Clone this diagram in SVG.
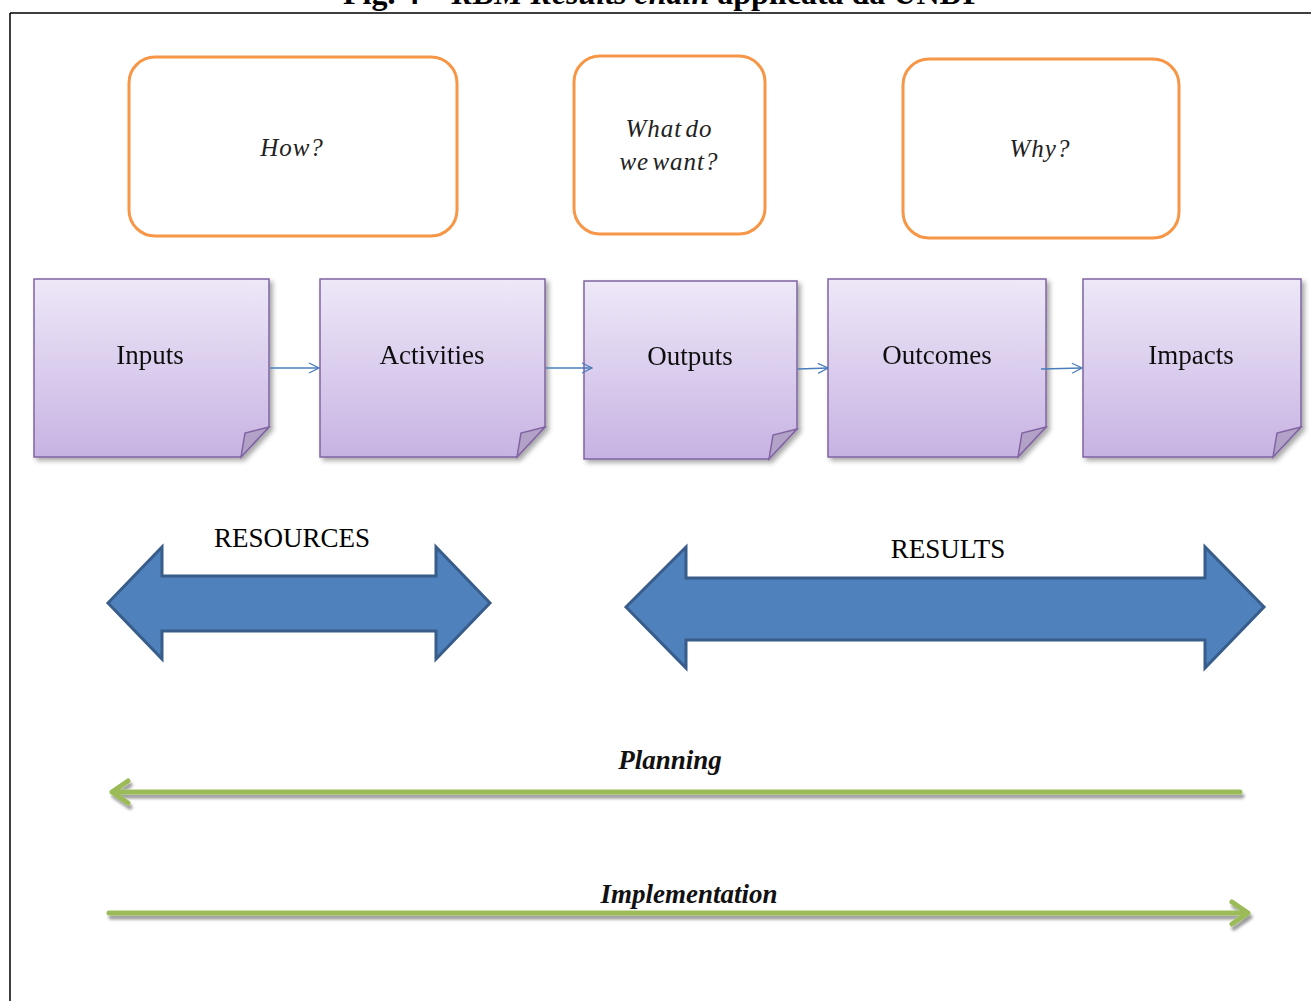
<svg xmlns="http://www.w3.org/2000/svg" width="1311" height="1001" viewBox="0 0 1311 1001">
<defs>
<linearGradient id="pg" x1="0" y1="0" x2="0" y2="1">
<stop offset="0" stop-color="#EEE8F8"/>
<stop offset="1" stop-color="#C7B3E3"/>
</linearGradient>
<filter id="sh" x="-10%" y="-10%" width="130%" height="130%">
<feGaussianBlur in="SourceAlpha" stdDeviation="2.5"/>
<feOffset dx="3" dy="3" result="b"/>
<feComponentTransfer><feFuncA type="linear" slope="0.35"/></feComponentTransfer>
<feMerge><feMergeNode/><feMergeNode in="SourceGraphic"/></feMerge>
</filter>
<filter id="gsh" x="-5%" y="-100%" width="110%" height="400%">
<feGaussianBlur in="SourceAlpha" stdDeviation="1.5"/>
<feOffset dx="2" dy="4" result="b"/>
<feComponentTransfer><feFuncA type="linear" slope="0.4"/></feComponentTransfer>
<feMerge><feMergeNode/><feMergeNode in="SourceGraphic"/></feMerge>
</filter>
<marker id="ar" markerWidth="12" markerHeight="12" refX="11" refY="6" orient="auto" markerUnits="userSpaceOnUse">
<path d="M1,1 L11,6 L1,11" fill="none" stroke="#4A7EBB" stroke-width="1.3"/>
</marker>
</defs>
<style>
.q{fill:#fff;stroke:#F79646;stroke-width:3}
.qt{font-family:"Liberation Serif",serif;font-style:italic;font-size:25px;fill:#222;text-anchor:middle;letter-spacing:1px}
.n{fill:url(#pg);stroke:#8064A2;stroke-width:1.5}
.f{fill:#B3A2C7;stroke:#8064A2;stroke-width:1.5}
.nt{font-family:"Liberation Serif",serif;font-size:27px;fill:#111;text-anchor:middle}
.c{stroke:#4A7EBB;stroke-width:1.3;fill:none}
.ba{fill:#4F81BD;stroke:#385D8A;stroke-width:3;stroke-linejoin:miter}
.bl{font-family:"Liberation Serif",serif;font-size:27px;fill:#000;text-anchor:middle}
.g{stroke:#9BBB59;stroke-width:5;fill:none;stroke-linecap:round;stroke-linejoin:round}
.gl{font-family:"Liberation Serif",serif;font-style:italic;font-weight:bold;font-size:27px;fill:#111;text-anchor:middle}
.tt{font-family:"Liberation Serif",serif;font-weight:bold;font-size:32px;fill:#000}
</style>
<rect width="1311" height="1001" fill="#fff"/>
<text class="tt" x="343" y="4">Fig. 4 – <tspan font-style="italic">RBM Results chain</tspan> applicata da UNDP</text>
<path d="M10,13 H1311 M10,13 V1001" stroke="#000" stroke-width="1.5" fill="none"/>

<g id="q-how"><rect class="q" x="129" y="57" width="328" height="179" rx="26"/><text class="qt" x="292" y="156">How?</text></g>
<g id="q-what"><rect class="q" x="574" y="56" width="191" height="178" rx="26"/><text class="qt" x="669" y="137" word-spacing="-4">What do</text><text class="qt" x="669" y="170" word-spacing="-4">we want?</text></g>
<g id="q-why"><rect class="q" x="903" y="59" width="276" height="179" rx="26"/><text class="qt" x="1040" y="157">Why?</text></g>

<g id="n-inputs" filter="url(#sh)"><path class="n" d="M34,279 H269 V427 L241,457 H34 Z"/><path class="f" d="M269,427 L245,433 L241,457 Z"/><text class="nt" x="150" y="364">Inputs</text></g>
<g id="n-activities" filter="url(#sh)"><path class="n" d="M320,279 H545 V427 L517,457 H320 Z"/><path class="f" d="M545,427 L521,433 L517,457 Z"/><text class="nt" x="432" y="364">Activities</text></g>
<g id="n-outputs" filter="url(#sh)"><path class="n" d="M584,281 H797 V429 L769,459 H584 Z"/><path class="f" d="M797,429 L773,435 L769,459 Z"/><text class="nt" x="690" y="365">Outputs</text></g>
<g id="n-outcomes" filter="url(#sh)"><path class="n" d="M828,279 H1046 V427 L1018,457 H828 Z"/><path class="f" d="M1046,427 L1022,433 L1018,457 Z"/><text class="nt" x="937" y="364">Outcomes</text></g>
<g id="n-impacts" filter="url(#sh)"><path class="n" d="M1083,279 H1301 V427 L1273,457 H1083 Z"/><path class="f" d="M1301,427 L1277,433 L1273,457 Z"/><text class="nt" x="1191" y="364">Impacts</text></g>

<g id="connectors">
<line class="c" x1="270" y1="368" x2="319" y2="368" marker-end="url(#ar)"/>
<line class="c" x1="546" y1="368" x2="592" y2="368" marker-end="url(#ar)"/>
<line class="c" x1="798" y1="369" x2="828" y2="368" marker-end="url(#ar)"/>
<line class="c" x1="1041" y1="369" x2="1082" y2="368" marker-end="url(#ar)"/>
</g>

<g id="resources">
<path class="ba" d="M108,603 L162,547 V576 H436 V547 L490,603 L436,659 V631 H162 V659 Z"/>
<text class="bl" x="292" y="547">RESOURCES</text>
</g>
<g id="results">
<path class="ba" d="M626,607 L686,547 V578 H1205 V547 L1264,607 L1205,668 V640 H686 V668 Z"/>
<text class="bl" x="948" y="558">RESULTS</text>
</g>

<g id="planning">
<g filter="url(#gsh)"><path class="g" d="M1240,792 H112 M128,781 L112,792 L128,803"/></g>
<text class="gl" x="670" y="769">Planning</text>
</g>
<g id="implementation">
<g filter="url(#gsh)"><path class="g" d="M109,913 H1248 M1232,902 L1248,913 L1232,924"/></g>
<text class="gl" x="689" y="903">Implementation</text>
</g>
</svg>
